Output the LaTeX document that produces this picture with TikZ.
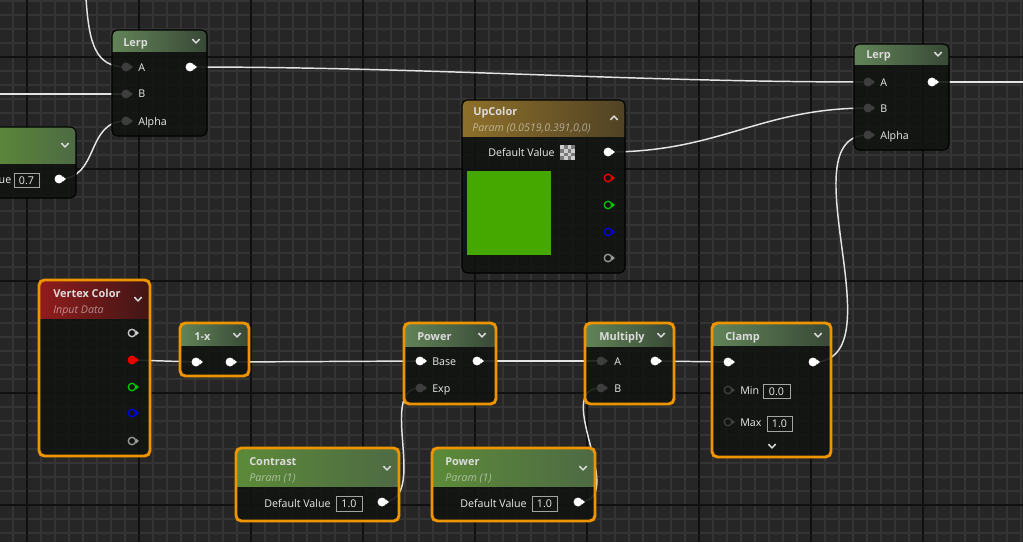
\documentclass[tikz,border=0pt]{standalone}
\usepackage{fontspec}
\setmainfont{Open Sans}
\usetikzlibrary{calc}
\definecolor{gridbg}{RGB}{38,38,38}
\definecolor{gridminor}{RGB}{52,52,52}
\definecolor{gridmajor}{RGB}{16,16,16}
\definecolor{nodebg}{RGB}{18,20,18}
\definecolor{selorange}{RGB}{238,148,0}
\definecolor{pingrey}{RGB}{62,62,62}
\definecolor{pinlight}{RGB}{205,205,205}
\definecolor{pinred}{RGB}{235,0,0}
\definecolor{pingreen}{RGB}{0,200,0}
\definecolor{pinblue}{RGB}{0,0,230}
\definecolor{wirewhite}{RGB}{228,228,228}
\definecolor{titlegray}{RGB}{220,220,220}
\definecolor{labelwhite}{RGB}{235,235,235}
\definecolor{mathL}{RGB}{98,132,88}
\definecolor{mathR}{RGB}{56,72,54}
\definecolor{parL}{RGB}{92,138,56}
\definecolor{parM}{RGB}{52,74,40}
\definecolor{parR}{RGB}{78,106,68}
\definecolor{upL}{RGB}{142,112,42}
\definecolor{upR}{RGB}{80,66,36}
\definecolor{vtxL}{RGB}{145,28,28}
\definecolor{vtxR}{RGB}{64,22,22}
\definecolor{swatch}{RGB}{68,168,0}
\pgfdeclarelayer{grid}
\pgfdeclarelayer{wires}
\pgfsetlayers{grid,wires,main}
% body and header of one graph node: x1,y1,x2,y2,header bottom,header shading,frame
\newcommand{\uenode}[7]{%
  \fill[nodebg,fill opacity=0.9,rounded corners=4pt] (#1,#2) rectangle (#3,#4);
  \begin{scope}
    \clip[rounded corners=4pt] (#1,#2) rectangle (#3,#4);
    \shade[#6] (#1,#2) rectangle (#3,#5);
  \end{scope}
  \draw[#7,rounded corners=4pt] (#1,#2) rectangle (#3,#4);
}
% pin: name,x,y,fill,ring colour
\newcommand{\uepin}[5]{%
  \node[pinbase,fill=#4,draw=#5] (#1) at (#2,#3) {};
  \fill[#5] ($(#1.center)+(4.2,-2.4)$) -- ++(2.6,2.4) -- ++(-2.6,2.4) -- cycle;
}
\newcommand{\uechev}[2]{\draw[chev] (#1-3.6,#2-1.9) -- (#1,#2+1.9) -- (#1+3.6,#2-1.9);}
\newcommand{\uevalue}[6]{%
  \draw[valbox] (#2,#3) rectangle (#4,#5);
  \node[pinlabel,anchor=center] (#1) at ({(#2+#4)/2},{(#3+#5)/2+0.5}) {#6};
}

\begin{document}
\begin{tikzpicture}[x=0.75pt,y=-0.75pt,
  minorgrid/.style={draw=gridminor,line width=1.5pt},
  majorgrid/.style={draw=gridmajor,line width=1.5pt},
  mathhead/.style={left color=mathL,right color=mathR},
  parhead/.style={left color=parL,middle color=parM,right color=parR},
  uphead/.style={left color=upL,right color=upR},
  vtxhead/.style={left color=vtxL,right color=vtxR},
  selframe/.style={draw=selorange,line width=2.2pt},
  plainframe/.style={draw=black,line width=0.8pt},
  pinbase/.style={circle,inner sep=0pt,minimum size=5.6pt,line width=1pt},
  chev/.style={draw=titlegray,line width=1.1pt},
  valbox/.style={draw=pinlight!80!black,line width=0.6pt},
  title/.style={anchor=base west,inner sep=0pt,text=titlegray,font=\fontsize{8.2}{10}\selectfont\bfseries},
  subtitle/.style={anchor=base west,inner sep=0pt,text=white,text opacity=0.5,font=\fontsize{8}{9.6}\selectfont\itshape},
  pinlabel/.style={anchor=base west,inner sep=0pt,text=labelwhite,font=\fontsize{8}{9.6}\selectfont},
  wire/.style={draw=wirewhite,line width=1.1pt}]
  \useasboundingbox (0,0) rectangle (1023,542);
  \clip (0,0) rectangle (1023,542);

  \begin{pgfonlayer}{grid}
    \fill[gridbg] (0,0) rectangle (1023,542);
    \foreach \x in {-1,13,...,1030} \draw[minorgrid] (\x,0) -- (\x,542);
    \foreach \y in {1,15,...,550} \draw[minorgrid] (0,\y) -- (1023,\y);
    \foreach \x in {27,139,...,1030} \draw[majorgrid] (\x,0) -- (\x,542);
    \foreach \y in {57,169,...,550} \draw[majorgrid] (0,\y) -- (1023,\y);
  \end{pgfonlayer}

  % Lerp (top left)
  \uenode{112}{30}{207}{136}{52}{mathhead}{plainframe}
  \node[title] (lerpone) at (123,46) {Lerp};
  \uechev{196}{41}
  \uepin{loa}{126}{67}{pingrey}{pingrey}
  \uepin{lob}{126}{94}{pingrey}{pingrey}
  \uepin{loalpha}{126}{121}{pingrey}{pingrey}
  \uepin{loout}{190}{67}{white}{white}
  \node[pinlabel] at (138,71) {A};
  \node[pinlabel] at (138,98) {B};
  \node[pinlabel] at (138,125) {Alpha};

  % cut-off scalar parameter
  \uenode{-12}{127}{76}{198}{163}{parhead}{plainframe}
  \uechev{65}{145}
  \node[pinlabel,anchor=base east] (cutdef) at (11.5,183) {ue};
  \uevalue{cutval}{14}{173}{39}{187}{0.7}
  \uepin{cutout}{59}{179}{white}{white}

  % UpColor
  \uenode{462}{100}{625}{273}{136}{uphead}{plainframe}
  \node[title] (upcolor) at (473,115) {UpColor};
  \node[subtitle] at (472,131) {Param (0.0519,0.391,0,0)};
  \draw[chev] (614-3.6,118+1.9) -- (614,118-1.9) -- (614+3.6,118+1.9);
  \node[pinlabel] at (488,156) {Default Value};
  \fill[pinlight!60!black] (560,145) rectangle (575,160);
  \foreach \i in {0,1,2,3} \foreach \j in {0,1,2,3} {
    \pgfmathparse{int(mod(\i+\j,2))}
    \ifnum\pgfmathresult=0 \fill[pinlight] (560+3.75*\i,145+3.75*\j) rectangle ++(3.75,3.75); \fi
  }
  \fill[swatch] (467,171) rectangle (551,255);
  \uepin{upout}{608}{152}{white}{white}
  \uepin{upr}{608}{178}{nodebg}{pinred}
  \uepin{upg}{608}{205}{nodebg}{pingreen}
  \uepin{upb}{608}{232}{nodebg}{pinblue}
  \uepin{upa}{608}{258}{nodebg}{pinlight!75!black}

  % Lerp (top right)
  \uenode{854}{44}{949}{150}{65}{mathhead}{plainframe}
  \node[title] (lerptwo) at (866,59) {Lerp};
  \uechev{938}{54}
  \uepin{lta}{868}{82}{pingrey}{pingrey}
  \uepin{ltb}{868}{108}{pingrey}{pingrey}
  \uepin{ltalpha}{868}{135}{pingrey}{pingrey}
  \uepin{ltout}{932}{82}{white}{white}
  \node[pinlabel] at (880,86) {A};
  \node[pinlabel] at (880,112) {B};
  \node[pinlabel] at (880,139) {Alpha};

  % Vertex Color
  \uenode{39}{280}{150}{456}{318}{vtxhead}{selframe}
  \node[title] (vertex) at (53,297) {Vertex Color};
  \node[subtitle] at (53,313) {Input Data};
  \uechev{138}{299}
  \uepin{vcrgb}{132}{333}{nodebg}{pinlight}
  \uepin{vcr}{132}{360}{pinred}{pinred}
  \uepin{vcg}{132}{387}{nodebg}{pingreen}
  \uepin{vcb}{132}{413}{nodebg}{pinblue}
  \uepin{vca}{132}{441}{nodebg}{pinlight!75!black}

  % 1-x
  \uenode{180}{323}{249}{376}{345}{mathhead}{selframe}
  \node[title] (oneminus) at (194,340) {1-x};
  \uechev{237}{335}
  \uepin{omin}{196}{362}{white}{white}
  \uepin{omout}{230}{362}{white}{white}

  % Power
  \uenode{404}{323}{496}{404}{346}{mathhead}{selframe}
  \node[title] (power) at (417,340) {Power};
  \uechev{482}{335}
  \uepin{pwbase}{420}{361}{white}{white}
  \uepin{pwexp}{420}{388}{pingrey}{pingrey}
  \uepin{pwout}{477}{361}{white}{white}
  \node[pinlabel] at (432,365) {Base};
  \node[pinlabel] at (432,392) {Exp};

  % Multiply
  \uenode{585}{323}{674}{404}{346}{mathhead}{selframe}
  \node[title] (multiply) at (599,340) {Multiply};
  \uechev{661}{335}
  \uepin{mua}{601}{361}{pingrey}{pingrey}
  \uepin{mub}{601}{388}{pingrey}{pingrey}
  \uepin{muout}{655}{361}{white}{white}
  \node[pinlabel] at (614,365) {A};
  \node[pinlabel] at (614,392) {B};

  % Clamp
  \uenode{712}{323}{831}{457}{345}{mathhead}{selframe}
  \node[title] (clamp) at (725,340) {Clamp};
  \uechev{818}{335}
  \uepin{clin}{728}{362}{white}{white}
  \uepin{clout}{813}{362}{white}{white}
  \uepin{clmin}{728}{390}{nodebg}{pingrey}
  \uepin{clmax}{728}{422}{nodebg}{pingrey}
  \node[pinlabel] at (740,394) {Min};
  \uevalue{clminval}{763}{384}{790}{398}{0.0}
  \node[pinlabel] at (740,426) {Max};
  \uevalue{clmaxval}{767}{416}{792}{431}{1.0}
  \uechev{772}{446}

  % Contrast
  \uenode{236}{448}{399}{521}{486}{parhead}{selframe}
  \node[title] (contrast) at (249,465) {Contrast};
  \node[subtitle] at (249,481) {Param (1)};
  \uechev{387}{468}
  \node[pinlabel] at (264,507) {Default Value};
  \uevalue{ctval}{336}{496}{362}{511}{1.0}
  \uepin{ctout}{382}{502}{white}{white}

  % Power parameter
  \uenode{432}{448}{595}{521}{486}{parhead}{selframe}
  \node[title] (powparam) at (445,465) {Power};
  \node[subtitle] at (445,481) {Param (1)};
  \uechev{583}{468}
  \node[pinlabel] at (460,507) {Default Value};
  \uevalue{ppval}{532}{496}{557}{511}{1.0}
  \uepin{ppout}{578}{502}{white}{white}

  \coordinate (topsrc) at (86,-2);
  \coordinate (leftsrc) at (-2,94);
  \coordinate (rightend) at (1026,81);

  \begin{pgfonlayer}{wires}
    \clip (0,0) rectangle (1023,542);
    \draw[wire] (topsrc) .. controls +(3,47) and +(-30,0) .. (loa.center);
    \draw[wire] (leftsrc) -- (lob.center);
    \draw[wire] (cutout.center) .. controls +(41,0) and +(-41,0) .. (loalpha.center);
    \draw[wire] (loout.center) .. controls +(240,0) and +(-238,0) .. (lta.center);
    \draw[wire] (upout.center) .. controls +(112,0) and +(-108,0) .. (ltb.center);
    \draw[wire] (ltout.center) -- (ltout.center -| rightend);
    \draw[wire] (clout.center) .. controls +(87,0) and +(-83,0) .. (ltalpha.center);
    \draw[wire] (vcr.center) -- (omin.center);
    \draw[wire] (omout.center) -- (pwbase.center);
    \draw[wire] (pwout.center) -- (mua.center);
    \draw[wire] (muout.center) -- (clin.center);
    \draw[wire] (ctout.center) .. controls +(49,0) and +(-44,0) .. (pwexp.center);
    \draw[wire] (ppout.center) .. controls +(53,0) and +(-51,0) .. (mub.center);
  \end{pgfonlayer}
\end{tikzpicture}
\end{document}
